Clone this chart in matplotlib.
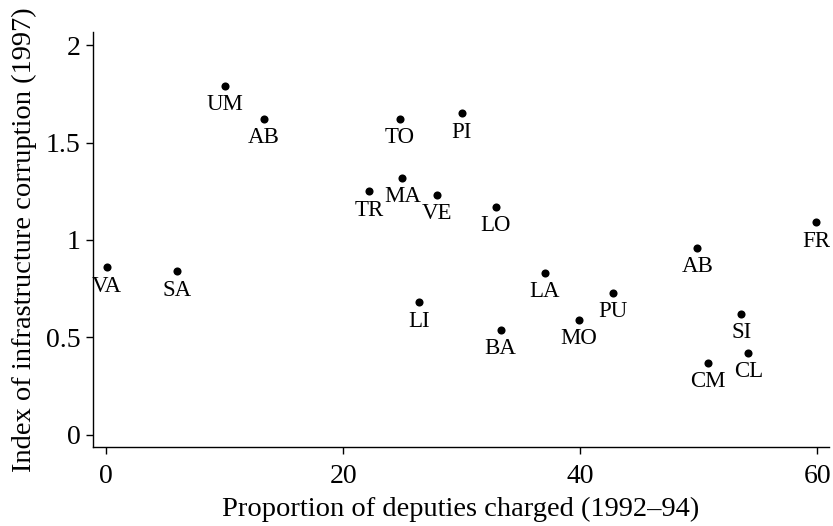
import matplotlib
matplotlib.use("Agg")
import matplotlib.pyplot as plt

# regions: share of deputies charged vs. infrastructure corruption index
regions = ["UM", "AB", "VA", "SA", "TO", "PI", "MA", "TR", "VE", "LO",
           "LA", "LI", "BA", "MO", "PU", "AB", "FR", "SI", "CL", "CM"]
charged = [10.0, 13.3, 0.1, 6.0, 24.8, 30.0, 25.0, 22.2, 27.9, 32.9,
           37.0, 26.4, 33.3, 39.9, 42.8, 49.9, 59.9, 53.6, 54.2, 50.8]
corruption = [1.79, 1.62, 0.86, 0.84, 1.62, 1.65, 1.32, 1.25, 1.23, 1.17,
              0.83, 0.68, 0.54, 0.59, 0.73, 0.96, 1.09, 0.62, 0.42, 0.37]

plt.rcParams['font.family'] = ['Liberation Serif', 'DejaVu Serif']

fig = plt.figure(figsize=(8.33, 5.26), dpi=100)
ax = fig.add_axes([93/833, 79/526, 736/833, 415/526])

ax.scatter(charged, corruption, s=34, color='black', zorder=3, linewidths=0)
for name, x, y in zip(regions, charged, corruption):
    ax.annotate(name, (x, y), xytext=(0, -6), textcoords='offset points',
                ha='center', va='top', fontsize=16.5)

ax.set_xlim(-1.1, 61.0)
ax.set_ylim(-0.062, 2.067)
ax.set_xticks([0, 20, 40, 60])
ax.set_yticks([0, 0.5, 1, 1.5, 2])
ax.set_yticklabels(['0', '0.5', '1', '1.5', '2'])
ax.tick_params(labelsize=20, length=5, width=1, pad=4)
ax.tick_params(axis='x', pad=7)

ax.spines['top'].set_visible(False)
ax.spines['right'].set_visible(False)
for s in ('left', 'bottom'):
    ax.spines[s].set_linewidth(1)

ax.set_xlabel('Proportion of deputies charged (1992–94)', fontsize=20.5, labelpad=6)
ax.set_ylabel('Index of infrastructure corruption (1997)', fontsize=20.5, labelpad=6)

fig.savefig('out.png', dpi=100)
